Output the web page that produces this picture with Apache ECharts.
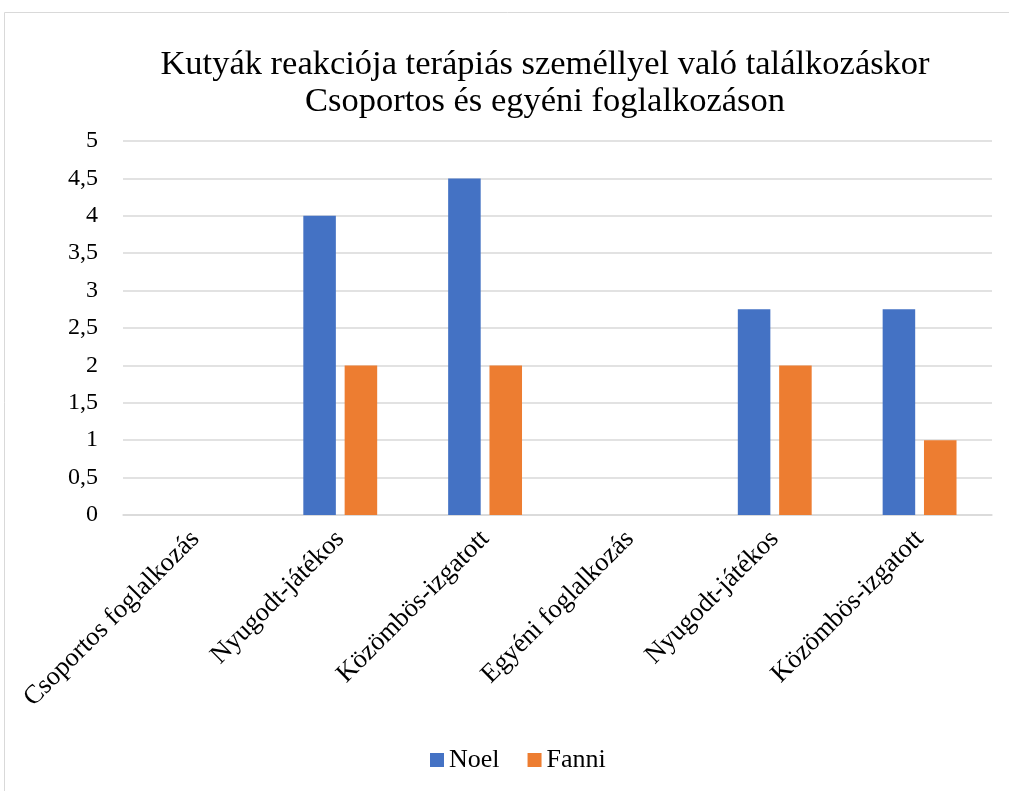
<!DOCTYPE html>
<html>
<head>
<meta charset="utf-8">
<script src="https://cdn.jsdelivr.net/npm/echarts@6/dist/echarts.min.js"></script>
<style>
html,body{margin:0;padding:0;background:#fff;}
#chart{width:1009px;height:791px;}
</style>
</head>
<body>
<div id="chart"></div>
<script>
const titleLines = ['Kutyák reakciója terápiás személlyel való találkozáskor', 'Csoportos és egyéni foglalkozáson'];
const categories = ['Csoportos foglalkozás', 'Nyugodt-játékos', 'Közömbös-izgatott', 'Egyéni foglalkozás', 'Nyugodt-játékos', 'Közömbös-izgatott'];
const noel = [null, 4, 4.5, null, 2.75, 2.75];
const fanni = [null, 2, 2, null, 2, 1];
const seriesNames = ['Noel', 'Fanni'];

const font = '"Liberation Serif", "Times New Roman", serif';
const chart = echarts.init(document.getElementById('chart'));
chart.setOption({
  animation: false,
  backgroundColor: '#fff',
  graphic: [{
    type: 'rect',
    shape: {x: 4.5, y: 12.5, width: 1100, height: 900},
    style: {fill: 'none', stroke: '#d9d9d9', lineWidth: 1}
  }],
  title: {
    text: titleLines.join('\n'),
    left: 540,
    top: 41,
    textAlign: 'center',
    textStyle: {fontFamily: font, fontSize: 34.5, fontWeight: 'normal', color: '#000', lineHeight: 37}
  },
  legend: {
    bottom: 13,
    left: 425,
    itemWidth: 14,
    itemHeight: 14,
    itemGap: 28,
    icon: 'rect',
    textStyle: {fontFamily: font, fontSize: 26, color: '#000'},
    data: seriesNames
  },
  grid: {left: 123, right: 17, top: 141, bottom: 276, containLabel: false},
  xAxis: {
    type: 'category',
    data: categories,
    axisLine: {lineStyle: {color: '#d9d9d9', width: 1.5}},
    axisTick: {show: false},
    axisLabel: {rotate: 45, fontFamily: font, fontSize: 26.5, color: '#000', margin: 20, interval: 0}
  },
  yAxis: {
    type: 'value',
    min: 0,
    max: 5,
    interval: 0.5,
    axisLine: {show: false},
    axisTick: {show: false},
    splitLine: {lineStyle: {color: '#d9d9d9', width: 1.5}},
    axisLabel: {
      fontFamily: font, fontSize: 24, color: '#000', margin: 25,
      formatter: v => String(v).replace('.', ',')
    }
  },
  series: [
    {name: seriesNames[0], type: 'bar', data: noel, itemStyle: {color: '#4472C4'}, barGap: '27%', barCategoryGap: '49%'},
    {name: seriesNames[1], type: 'bar', data: fanni, itemStyle: {color: '#ED7D31'}}
  ]
});
</script>
</body>
</html>
